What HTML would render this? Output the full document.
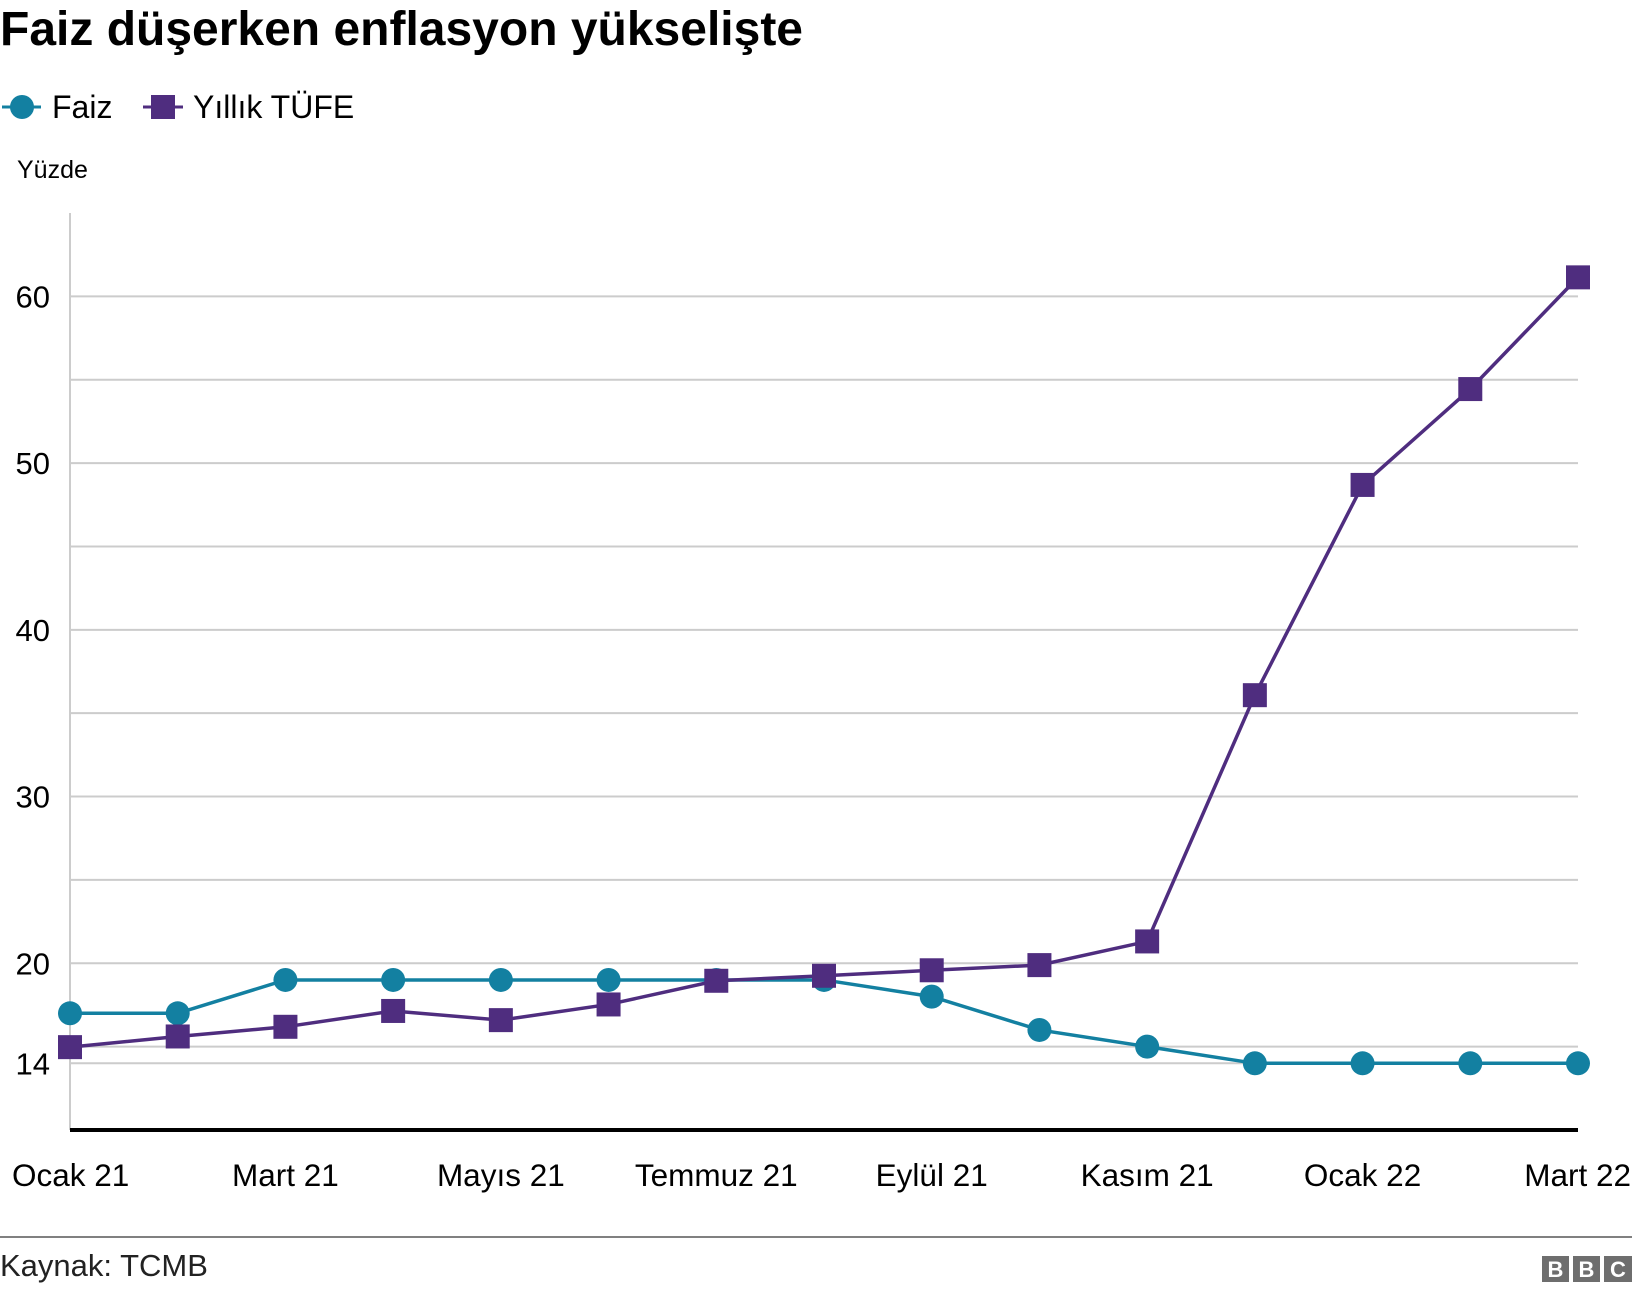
<!DOCTYPE html>
<html><head><meta charset="utf-8"><style>
body{margin:0;background:#fff;width:1632px;height:1292px;overflow:hidden;font-family:"Liberation Sans",sans-serif;}
svg{display:block}
</style></head><body>
<svg width="1632" height="1292">
<text x="0" y="45" font-size="48" font-weight="bold" fill="#000">Faiz düşerken enflasyon yükselişte</text>
<g>
<g>
<line x1="2" y1="107" x2="41" y2="107" stroke="#1380A1" stroke-width="3"/>
<circle cx="22" cy="107" r="12" fill="#1380A1"/>
<text x="52" y="118" font-size="32" fill="#000">Faiz</text></g>
<g>
<line x1="143" y1="107" x2="183" y2="107" stroke="#4F2D7F" stroke-width="3"/>
<rect x="151" y="95" width="24" height="24" fill="#4F2D7F"/>
<text x="193" y="118" font-size="32" fill="#000">Yıllık TÜFE</text></g>
</g>
<text x="17" y="178" font-size="25" fill="#000">Yüzde</text>
<g id="grid"></g><g id="plot"></g>
<line x1="0" y1="1237" x2="1632" y2="1237" stroke="#808080" stroke-width="2"/>
<text x="0" y="1276" font-size="31" fill="#222">Kaynak: TCMB</text>
<g font-size="22" font-weight="bold" fill="#fff" text-anchor="middle">
<rect x="1542" y="1256" width="27" height="26" fill="#6e6e6e"/><text x="1555.5" y="1277">B</text>
<rect x="1573" y="1256" width="27" height="26" fill="#6e6e6e"/><text x="1586.5" y="1277">B</text>
<rect x="1604" y="1256" width="28" height="26" fill="#6e6e6e"/><text x="1618" y="1277">C</text>
</g>
</svg>
<script>
const months=["Ocak 21","Şubat 21","Mart 21","Nisan 21","Mayıs 21","Haziran 21","Temmuz 21","Ağustos 21","Eylül 21","Ekim 21","Kasım 21","Aralık 21","Ocak 22","Şubat 22","Mart 22"];
const faiz=[17,17,19,19,19,19,19,19,18,16,15,14,14,14,14];
const tufe=[14.97,15.61,16.19,17.14,16.59,17.53,18.95,19.25,19.58,19.89,21.31,36.08,48.69,54.44,61.14];
const yTicks=[14,20,30,40,50,60];
const gridVals=[14,15,20,25,30,35,40,45,50,55,60];
const xLabelIdx=[0,2,4,6,8,10,12,14];
const NS="http://www.w3.org/2000/svg";
const x0=70,x1=1578,yMin=10,yMax=65,yTop=213,yBot=1130;
const X=i=>x0+(x1-x0)*i/(months.length-1);
const Y=v=>yBot-(v-yMin)/(yMax-yMin)*(yBot-yTop);
function mk(t,a,p){const e=document.createElementNS(NS,t);for(const k in a)e.setAttribute(k,a[k]);p.appendChild(e);return e;}
const g=document.getElementById('grid'),p=document.getElementById('plot');
gridVals.forEach(v=>{const l=mk('line',{x1:x0,x2:x1,y1:Y(v),y2:Y(v),stroke:'#cccccc','stroke-width':2},g);

});
const ya=mk('line',{x1:x0,x2:x0,y1:yTop,y2:yBot,stroke:'#cccccc','stroke-width':2},g);


yTicks.forEach(v=>{const t=mk('text',{x:50,y:Y(v)+11,'font-size':31,'text-anchor':'end',fill:'#000'},g);t.textContent=v;

});
const xa=mk('line',{x1:x0,x2:x1,y1:yBot,y2:yBot,stroke:'#000','stroke-width':4},g);


xLabelIdx.forEach(i=>{const anchor=i===0?'start':(i===months.length-1?'end':'middle');
const t=mk('text',{x:i===0?12:(i===months.length-1?1631:X(i)),y:1186,'font-size':31.5,'text-anchor':anchor,fill:'#000'},g);t.textContent=months[i];

});
function series(vals,col,name,sq){
const pl=mk('polyline',{points:vals.map((v,i)=>X(i)+','+Y(v)).join(' '),fill:'none',stroke:col,'stroke-width':3.5},p);


vals.forEach((v,i)=>{const m=sq?mk('rect',{x:X(i)-12,y:Y(v)-12,width:24,height:24,fill:col},p):mk('circle',{cx:X(i),cy:Y(v),r:12,fill:col},p);

});}
series(faiz,'#1380A1','faiz',false);
series(tufe,'#4F2D7F','tufe',true);
</script>
</body></html>
